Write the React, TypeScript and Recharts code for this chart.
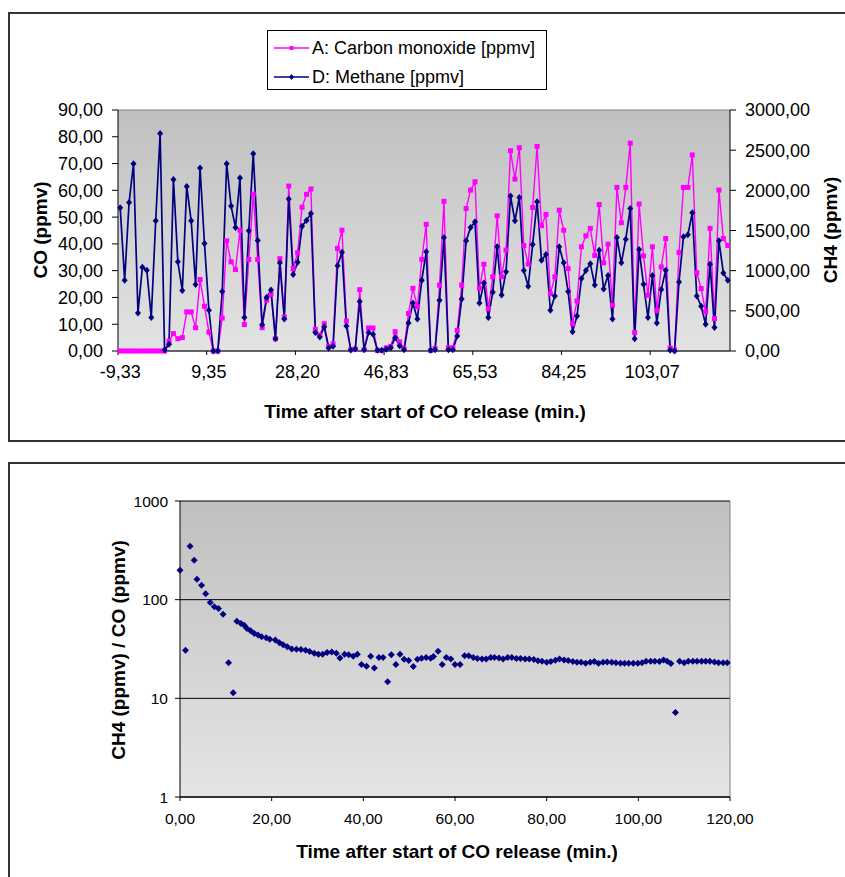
import { LineChart, Line, ScatterChart, Scatter, XAxis, YAxis, CartesianGrid, ReferenceLine } from 'recharts'

const FONT = '"Liberation Sans", Arial, sans-serif'

// top chart: category labels shown every 20 samples
const timeTickLabels = ['-9,33', '9,35', '28,20', '46,83', '65,53', '84,25', '103,07']

// A: carbon monoxide, ppmv (one value per sample)
const coPpmv = [
  0, 0, 0, 0, 0, 0, 0, 0, 0, 0,
  0, 3.7, 6.5, 4.6, 5.0, 14.6, 14.6, 8.7, 26.7, 16.7,
  7.1, 0, 0, 12.3, 41.1, 33.3, 30.4, 45.1, 9.9, 34.2,
  58.6, 34.2, 8.7, 19.0, 21.2, 4.6, 34.5, 12.7, 61.6, 30.8,
  36.7, 53.7, 58.5, 60.5, 8.1, 5.9, 10.2, 1.7, 2.7, 38.3,
  45.1, 11.2, 0.5, 0.7, 22.9, 0.5, 8.6, 8.6, 0.2, 0.2,
  1.2, 1.7, 7.2, 3.4, 0.9, 14.0, 23.4, 16.5, 34.2, 47.3,
  0.2, 0.9, 24.6, 55.9, 1.2, 1.2, 7.7, 24.6, 53.2, 60.1,
  63.2, 23.4, 32.4, 15.8, 27.7, 50.5, 27.7, 37.7, 74.8, 64.2,
  75.9, 39.4, 32.5, 53.6, 76.4, 46.8, 51.0, 21.4, 27.7, 52.6,
  45.1, 30.8, 10.2, 18.7, 38.9, 43.0, 45.8, 35.7, 54.7, 32.9,
  39.9, 17.1, 61.1, 47.9, 61.1, 77.6, 6.9, 54.9, 35.5, 20.8,
  38.9, 15.2, 31.4, 42.0, 1.1, 0.4, 36.8, 61.1, 61.1, 73.2,
  29.2, 23.3, 14.6, 45.8, 12.1, 60.1, 42.0, 39.4,
]

// D: methane, ppmv
const ch4Ppmv = [
  1783, 881, 1849, 2332, 474, 1043, 1006, 416, 1621, 2706,
  12, 83, 2136, 1110, 752, 2049, 1621, 827, 2277, 1338,
  507, 0, 0, 740, 2332, 1804, 1538, 2153, 416, 1496,
  2456, 1376, 328, 665, 760, 154, 1097, 399, 1891, 952,
  1105, 1554, 1625, 1712, 229, 175, 299, 37, 58, 1060,
  1230, 312, 12, 25, 615, 17, 229, 208, 8, 8,
  21, 42, 166, 66, 17, 349, 598, 399, 881, 1234,
  8, 17, 632, 1413, 17, 17, 187, 648, 1371, 1538,
  1608, 598, 848, 416, 731, 1297, 698, 985, 1928, 1621,
  1912, 1002, 806, 1326, 1858, 1130, 1201, 507, 686, 1297,
  1097, 740, 241, 436, 902, 1002, 1085, 823, 1255, 773,
  939, 399, 1413, 1097, 1392, 1775, 154, 1263, 831, 416,
  939, 349, 765, 1006, 8, 0, 860, 1421, 1446, 1721,
  686, 557, 332, 1081, 291, 1371, 972, 881,
]

// bottom chart: time (min) and CH4/CO ratio
const ratioTime = [
  0, 1.2, 2.2, 3.1, 3.7, 4.7, 5.6, 6.6, 7.5, 8.4,
  9.4, 10.6, 11.6, 12.4, 13.3, 14.0, 14.6, 15.4, 16.2, 17.0,
  17.8, 18.8, 19.6, 20.8, 21.7, 22.5, 23.4, 24.4, 25.4, 26.4,
  27.4, 28.3, 29.3, 30.2, 31.1, 32.1, 33.1, 34.1, 34.9, 35.9,
  36.8, 37.8, 38.7, 39.6, 40.7, 41.6, 42.4, 43.4, 44.3, 45.3,
  46.1, 47.1, 48.0, 48.9, 49.9, 50.9, 51.8, 52.7, 53.7, 54.7,
  55.3, 56.3, 57.2, 58.1, 59.1, 60.0, 61.1, 62.1, 63.0, 64.0,
  64.9, 65.9, 66.8, 67.8, 68.6, 69.6, 70.5, 71.5, 72.4, 73.4,
  74.3, 75.3, 76.2, 77.2, 78.1, 79.0, 80.0, 80.9, 81.9, 82.8,
  83.8, 84.7, 85.7, 86.6, 87.5, 88.5, 89.5, 90.4, 91.3, 92.3,
  93.2, 94.2, 95.1, 96.1, 97.0, 97.9, 98.9, 99.9, 100.8, 101.7,
  102.7, 103.6, 104.6, 105.5, 106.3, 107.1, 108.1, 109.0, 110.0, 110.9,
  111.9, 112.8, 113.8, 114.7, 115.6, 116.6, 117.5, 118.5, 119.4,
]
const ratioValue = [
  199, 30.8, 348, 251, 161, 140, 115, 93.6, 84.6, 81.4,
  71.3, 23, 11.4, 60.6, 57.4, 55, 51, 48.3, 45.5, 43.8,
  42, 41, 39.8, 38.9, 36.6, 35, 33.3, 31.7, 31.5, 31.3,
  30.8, 29.9, 28.7, 28, 28, 29.2, 29.4, 28.6, 25.7, 28,
  27.6, 26.7, 28, 22, 21.2, 26.7, 20.3, 26, 26, 14.7,
  27.6, 22, 28, 24.9, 24.2, 21, 24.9, 25.5, 26, 25.5,
  26.5, 30, 22, 26, 25.1, 22, 22, 27, 27, 26,
  25.3, 25.1, 25.1, 26, 26, 25.7, 25.1, 26, 26, 25.3,
  25.3, 25.1, 25.1, 24.7, 24.0, 23.8, 23.2, 23.6, 24.3, 25.1,
  24.5, 24.2, 23.6, 23.2, 23.2, 22.7, 23.2, 23.6, 22.7, 23.2,
  23.4, 23.2, 22.9, 22.7, 22.7, 22.7, 22.7, 22.7, 23, 23.8,
  23.8, 23.8, 23.6, 24.5, 23.8, 22.5, 7.2, 23.8, 22.9, 23.8,
  23.8, 23.8, 23.8, 23.8, 23.8, 23.4, 22.9, 22.9, 22.9,
]

const lineData = coPpmv.map((co, i) => ({ i, co, ch4: ch4Ppmv[i] }))
const ratioData = ratioTime.map((t, k) => ({ t, v: ratioValue[k] }))

const comma = (v: number) => v.toFixed(2).replace('.', ',')

const SquareDot = (p: any) => {
  if (p.cx == null || p.cy == null) return <g key={p.index} />
  return <rect key={p.index} x={p.cx - 2.5} y={p.cy - 2.5} width={5} height={5} fill="#ff00ff" />
}

const DiamondDot = (p: any) => {
  if (p.cx == null || p.cy == null) return <g key={p.index} />
  const { cx, cy } = p
  return <path key={p.index} d={`M${cx},${cy - 3.5}L${cx + 3},${cy}L${cx},${cy + 3.5}L${cx - 3},${cy}Z`} fill="#000080" />
}

const ScatterDiamond = (p: any) => {
  const { cx, cy } = p
  if (cx == null || cy == null) return <g />
  return <path d={`M${cx},${cy - 3.5}L${cx + 3.5},${cy}L${cx},${cy + 3.5}L${cx - 3.5},${cy}Z`} fill="#000080" />
}

function Title({ x, y, text, rotate }: { x: number; y: number; text: string; rotate?: boolean }) {
  return (
    <div
      style={{
        position: 'absolute', left: x, top: y, whiteSpace: 'nowrap', fontFamily: FONT,
        fontWeight: 700, fontSize: 19, lineHeight: 1, color: '#000',
        transform: `translate(-50%, -50%)${rotate ? ' rotate(-90deg)' : ''}`,
      }}
    >
      {text}
    </div>
  )
}

function Legend() {
  return (
    <div style={{ position: 'absolute', left: 267, top: 30, width: 280, height: 60, border: '1px solid #000', background: '#fff', boxSizing: 'border-box', fontFamily: FONT, fontSize: 18 }}>
      <svg width={50} height={60} style={{ position: 'absolute', left: 0, top: 0 }}>
        <line x1={6} y1={17} x2={41} y2={17} stroke="#ff00ff" strokeWidth={1.5} />
        <rect x={21.5} y={15} width={4} height={4} fill="#ff00ff" />
        <line x1={6} y1={46} x2={41} y2={46} stroke="#000080" strokeWidth={1.5} />
        <path d="M23.5,43L26,46L23.5,49L21,46Z" fill="#000080" />
      </svg>
      <div style={{ position: 'absolute', left: 44, top: 7, lineHeight: '20px', whiteSpace: 'nowrap' }}>A: Carbon monoxide [ppmv]</div>
      <div style={{ position: 'absolute', left: 44, top: 36, lineHeight: '20px', whiteSpace: 'nowrap' }}>D: Methane [ppmv]</div>
    </div>
  )
}

const tickTop = { fill: '#000', fontSize: 18, fontFamily: FONT }
const tickBottom = { fill: '#000', fontSize: 15.5, fontFamily: FONT }

export default function App() {
  return (
    <div style={{ position: 'fixed', left: 0, top: 0, width: 845, height: 877, overflow: 'hidden', background: '#fff' }}>
      {/* frames */}
      <div style={{ position: 'absolute', left: 8, top: 12, width: 870, height: 430, border: '2px solid #333', boxSizing: 'border-box' }} />
      <div style={{ position: 'absolute', left: 8, top: 462, width: 870, height: 440, border: '2px solid #333', boxSizing: 'border-box' }} />

      {/* top chart */}
      <div style={{ position: 'absolute', left: 8, top: 12 }}>
        <LineChart width={837} height={430} data={lineData} margin={{ top: 98, right: 0, bottom: 0, left: 0 }}>
          <defs>
            <linearGradient id="plotTop" x1="0" y1="0" x2="0" y2="1">
              <stop offset="0%" stopColor="#c0c0c0" />
              <stop offset="100%" stopColor="#e3e3e3" />
            </linearGradient>
          </defs>
          <CartesianGrid horizontal={false} vertical={false} fill="url(#plotTop)" stroke="none" />
          <XAxis
            type="number"
            dataKey="i"
            domain={[-0.5, 137.5]}
            ticks={[-0.5, 19.5, 39.5, 59.5, 79.5, 99.5, 119.5]}
            tickFormatter={(v: number) => timeTickLabels[Math.round((v + 0.5) / 20)]}
            tick={{ ...tickTop, dx: 2.2 }}
            tickSize={4}
            tickMargin={10}
            height={91}
            axisLine={{ stroke: '#333', strokeWidth: 1.5 }}
            tickLine={{ stroke: '#000' }}
          />
          <YAxis
            yAxisId="left"
            domain={[0, 90]}
            ticks={[0, 10, 20, 30, 40, 50, 60, 70, 80, 90]}
            tickFormatter={comma}
            tick={tickTop}
            width={110}
            tickSize={6}
            tickMargin={9}
            axisLine={{ stroke: '#000' }}
            tickLine={{ stroke: '#000' }}
          />
          <YAxis
            yAxisId="right"
            orientation="right"
            domain={[0, 3000]}
            ticks={[0, 500, 1000, 1500, 2000, 2500, 3000]}
            tickFormatter={comma}
            tick={tickTop}
            width={115}
            tickSize={6}
            tickMargin={9}
            axisLine={{ stroke: '#000' }}
            tickLine={{ stroke: '#000' }}
          />
          <ReferenceLine yAxisId="left" y={90} stroke="#808080" />
          <Line yAxisId="left" type="linear" dataKey="co" stroke="#ff00ff" strokeWidth={1.4} dot={SquareDot} activeDot={false} isAnimationActive={false} />
          <Line yAxisId="right" type="linear" dataKey="ch4" stroke="#000080" strokeWidth={1.7} dot={DiamondDot} activeDot={false} isAnimationActive={false} />
        </LineChart>
      </div>
      <Legend />
      <Title x={425} y={411} text="Time after start of CO release (min.)" />
      <Title x={40} y={230} text="CO (ppmv)" rotate />
      <Title x={830} y={230} text="CH4 (ppmv)" rotate />

      {/* bottom chart */}
      <div style={{ position: 'absolute', left: 8, top: 462 }}>
        <ScatterChart width={837} height={415} margin={{ top: 39, right: 115, bottom: 0, left: 0 }}>
          <defs>
            <linearGradient id="plotBottom" x1="0" y1="0" x2="0" y2="1">
              <stop offset="0%" stopColor="#c0c0c0" />
              <stop offset="100%" stopColor="#e5e5e5" />
            </linearGradient>
          </defs>
          <CartesianGrid vertical={false} fill="url(#plotBottom)" stroke="#000" />
          <XAxis
            type="number"
            dataKey="t"
            domain={[0, 120]}
            ticks={[0, 20, 40, 60, 80, 100, 120]}
            tickFormatter={comma}
            tick={tickBottom}
            tickSize={4}
            tickMargin={12}
            height={80}
            axisLine={{ stroke: '#333', strokeWidth: 2 }}
            tickLine={{ stroke: '#000' }}
          />
          <YAxis
            type="number"
            dataKey="v"
            scale="log"
            domain={[1, 1000]}
            ticks={[1, 10, 100, 1000]}
            allowDataOverflow
            tickFormatter={(v: number) => String(v)}
            tick={tickBottom}
            width={172}
            tickSize={5}
            tickMargin={7}
            axisLine={{ stroke: '#000' }}
            tickLine={{ stroke: '#000' }}
          />
          <ReferenceLine x={120} stroke="#808080" />
          <Scatter data={ratioData} shape={ScatterDiamond} isAnimationActive={false} />
        </ScatterChart>
      </div>
      <Title x={457} y={851} text="Time after start of CO release (min.)" />
      <Title x={118} y={650} text="CH4 (ppmv) / CO (ppmv)" rotate />
    </div>
  )
}
